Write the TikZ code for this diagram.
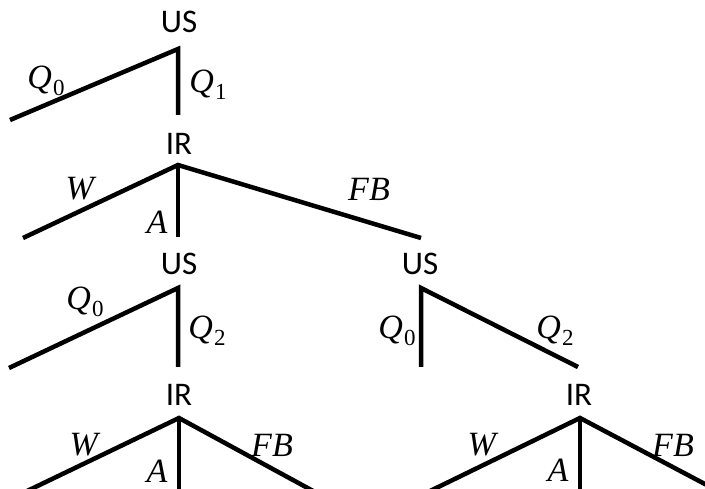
\documentclass[tikz,border=0pt]{standalone}
\usepackage{fontspec}
\newfontfamily\lblfont{Carlito}
\newfontfamily\actfont{Liberation Serif}
\newcommand{\actsub}[2]{\textit{#1}\kern1pt\raisebox{-0.22em}{\fontsize{23}{25}\selectfont #2}}
\begin{document}
\begin{tikzpicture}[x=1pt,y=-1pt,
  branch/.style={line width=4.5pt,line cap=butt,line join=miter},
  player/.style={font=\lblfont\fontsize{33}{36}\selectfont,inner sep=0pt},
  act/.style={font=\actfont\fontsize{34}{36}\selectfont,inner sep=0pt}]
\useasboundingbox (0,0) rectangle (705,489);
\clip (0,0) rectangle (705,489);
% level 1: US
\node[player] (us1) at (179,22) {US};
\coordinate (v1) at (178,49);
\coordinate (e1a) at (10,120);
\coordinate (e1b) at (178,115);
\draw[branch] (e1a) -- (v1) -- (e1b);
\node[act] (q0a) at (46,81) {\actsub{Q}{0}};
\node[act] (q1a) at (208,85) {\actsub{Q}{1}};
% level 2: IR
\node[player] (ir1) at (179,144) {IR};
\coordinate (v2) at (178,165);
\coordinate (e2a) at (23,238);
\coordinate (e2b) at (178,237);
\coordinate (e2c) at (421,238);
\draw[branch] (e2a) -- (v2) -- (e2c);
\draw[branch] (v2) -- (e2b);
\node[act] (w1) at (81,189) {\textit{W}};
\node[act] (a1) at (157,222) {\textit{A}};
\node[act] (fb1) at (369,189) {\textit{FB}};
% level 3: US left
\node[player] (us2) at (179,264) {US};
\coordinate (v3) at (178,288);
\coordinate (e3a) at (9,368);
\coordinate (e3b) at (178,367);
\draw[branch] (e3a) -- (v3) -- (e3b);
\node[act] (q0b) at (85,302) {\actsub{Q}{0}};
\node[act] (q2b) at (207,331) {\actsub{Q}{2}};
% level 3: US right
\node[player] (us3) at (420,264) {US};
\coordinate (v4) at (421,288);
\coordinate (e4a) at (421,367);
\coordinate (e4b) at (578,367);
\draw[branch] (e4a) -- (v4) -- (e4b);
\node[act] (q0c) at (397,331) {\actsub{Q}{0}};
\node[act] (q2c) at (555,331) {\actsub{Q}{2}};
% level 4: IR left
\node[player] (ir2) at (179,395) {IR};
\coordinate (v5) at (179,418);
\coordinate (e5a) at (25,492);
\coordinate (e5b) at (179,492);
\coordinate (e5c) at (315,492);
\draw[branch] (e5a) -- (v5) -- (e5c);
\draw[branch] (v5) -- (e5b);
\node[act] (w2) at (85,445) {\textit{W}};
\node[act] (a2) at (157,471) {\textit{A}};
\node[act] (fb2) at (272,445) {\textit{FB}};
% level 4: IR right
\node[player] (ir3) at (579,395) {IR};
\coordinate (v6) at (580,418);
\coordinate (e6a) at (428,492);
\coordinate (e6b) at (580,492);
\coordinate (e6c) at (720,492);
\draw[branch] (e6a) -- (v6) -- (e6c);
\draw[branch] (v6) -- (e6b);
\node[act] (w3) at (483,445) {\textit{W}};
\node[act] (a3) at (558,470) {\textit{A}};
\node[act] (fb3) at (673,445) {\textit{FB}};
\end{tikzpicture}
\end{document}
